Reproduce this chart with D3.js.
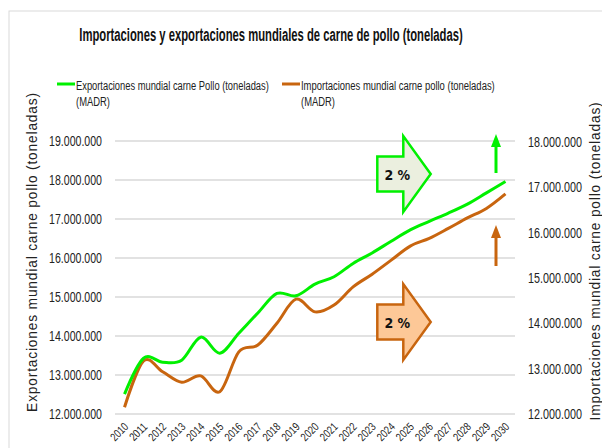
<!DOCTYPE html>
<html>
<head>
<meta charset="utf-8">
<script src="https://cdn.jsdelivr.net/npm/d3@7"></script>
<style>
  html, body { margin: 0; padding: 0; background: #fff; }
  svg { display: block; }
  .narrow { font-family: "Liberation Sans Narrow", "Arial Narrow", "Liberation Sans", Arial, sans-serif; }
  .wide { font-family: "Liberation Sans", Arial, sans-serif; }
</style>
</head>
<body>
<svg id="chart" width="602" height="448"></svg>
<script>
// World chicken meat trade, tonnes (MADR)
const years = ["2010","2011","2012","2013","2014","2015","2016","2017","2018","2019","2020",
               "2021","2022","2023","2024","2025","2026","2027","2028","2029","2030"];
const exportsT = [12510000, 13430000, 13330000, 13380000, 13970000, 13560000, 14070000,
                  14590000, 15090000, 15030000, 15330000, 15520000, 15860000, 16130000,
                  16430000, 16720000, 16940000, 17150000, 17380000, 17670000, 17960000];
const importsT = [12150000, 13170000, 12930000, 12700000, 12840000, 12490000, 13370000,
                  13520000, 14000000, 14530000, 14250000, 14400000, 14800000, 15080000,
                  15390000, 15700000, 15870000, 16090000, 16320000, 16530000, 16850000];
const leftTicks = [12000000, 13000000, 14000000, 15000000, 16000000, 17000000, 18000000, 19000000];
const rightTicks = [12000000, 13000000, 14000000, 15000000, 16000000, 17000000, 18000000];
const growthLabels = ["2 %", "2 %"];

const GREEN = "#00f000";
const ORANGE = "#c8650f";

const svg = d3.select("#chart");
const fmt = d3.formatLocale({ decimal: ",", thousands: ".", grouping: [3], currency: ["", ""] }).format(",.0f");

// condensed look: scale each text horizontally to a target width
function squeeze(sel, w) {
  sel.each(function () {
    const n = this.getComputedTextLength();
    const s = n > 0 ? w / n : 1;
    const t = d3.select(this).attr("transform") || "";
    d3.select(this).attr("transform", (t + ` scale(${s},1)`).trim());
  });
}

// chart frame
svg.append("rect").attr("x", 9).attr("y", 11).attr("width", 620).attr("height", 460)
  .attr("fill", "none").attr("stroke", "#d9d9d9").attr("stroke-width", 1);

const x = d3.scaleBand().domain(years).range([115, 515]);
const yL = d3.scaleLinear().domain([12000000, 19000000]).range([414, 141]);
const yR = d3.scaleLinear().domain([12000000, 18000000]).range([414, 141.7]);

// gridlines
svg.append("g").selectAll("line").data(leftTicks).join("line")
  .attr("x1", 115).attr("x2", 515)
  .attr("y1", d => yL(d)).attr("y2", d => yL(d))
  .attr("stroke", "#d9d9d9").attr("stroke-width", 1.5);

// left axis
const gl = svg.append("g").attr("transform", "translate(102,0)")
  .call(d3.axisLeft(yL).tickValues(leftTicks).tickFormat(fmt).tickSize(0).tickPadding(0));
gl.select(".domain").remove();
gl.selectAll("text").attr("class", "narrow").attr("font-size", 14.5).attr("fill", "#222")
  .attr("x", 0).call(squeeze, 53);

// right axis
const gr = svg.append("g").attr("transform", "translate(528,0)")
  .call(d3.axisRight(yR).tickValues(rightTicks).tickFormat(fmt).tickSize(0).tickPadding(0));
gr.select(".domain").remove();
gr.selectAll("text").attr("class", "narrow").attr("font-size", 14.5).attr("fill", "#222")
  .attr("x", 0).call(squeeze, 54);

// bottom axis
const gb = svg.append("g").attr("transform", "translate(0,414)")
  .call(d3.axisBottom(x).tickSize(0).tickPadding(0));
gb.select(".domain").remove();
gb.selectAll("text").attr("class", "narrow").attr("font-size", 11.5).attr("fill", "#222")
  .attr("text-anchor", "end").attr("dy", 0).attr("y", 0)
  .attr("transform", "translate(4.5,13.5) rotate(-45)")
  .call(squeeze, 20);

// axis titles
svg.append("text").attr("class", "wide")
  .attr("transform", "translate(37,252) rotate(-90)")
  .attr("text-anchor", "middle").attr("font-size", 13.8).attr("letter-spacing", 0.8)
  .attr("fill", "#222").text("Exportaciones mundial carne pollo (toneladas)");
svg.append("text").attr("class", "wide")
  .attr("transform", "translate(600,261) rotate(-90)")
  .attr("text-anchor", "middle").attr("font-size", 13.8).attr("letter-spacing", 0.8)
  .attr("fill", "#222").text("Importaciones mundial carne pollo (toneladas)");

// title
svg.append("text").attr("class", "narrow")
  .attr("transform", "translate(271,41)").attr("text-anchor", "middle")
  .attr("font-size", 18.5).attr("font-weight", "bold").attr("fill", "#111")
  .text("Importaciones y exportaciones mundiales de carne de pollo (toneladas)")
  .call(squeeze, 384);

// legend
const legend = [
  { color: GREEN, x: 57, lines: ["Exportaciones mundial carne Pollo (toneladas)", "(MADR)"], w: [193, 34] },
  { color: ORANGE, x: 282, lines: ["Importaciones mundial carne pollo (toneladas)", "(MADR)"], w: [194, 34] }
];
const lg = svg.append("g").selectAll("g").data(legend).join("g")
  .attr("transform", d => `translate(${d.x},0)`);
lg.append("line").attr("x1", 0).attr("x2", 18).attr("y1", 84).attr("y2", 84)
  .attr("stroke", d => d.color).attr("stroke-width", 3);
lg.each(function (d) {
  const g = d3.select(this);
  d.lines.forEach((t, i) => {
    g.append("text").attr("class", "narrow")
      .attr("transform", `translate(19,${90 + i * 16})`)
      .attr("font-size", 13.5).attr("fill", "#222").text(t)
      .call(squeeze, d.w[i]);
  });
});

// series lines
const lineL = d3.line().x((d, i) => x(years[i]) + x.bandwidth() / 2).y(d => yL(d))
  .curve(d3.curveCardinal.tension(0));
const lineR = d3.line().x((d, i) => x(years[i]) + x.bandwidth() / 2).y(d => yR(d))
  .curve(d3.curveCardinal.tension(0));

svg.append("path").attr("d", lineR(importsT)).attr("fill", "none")
  .attr("stroke", ORANGE).attr("stroke-width", 3).attr("stroke-linejoin", "round");
svg.append("path").attr("d", lineL(exportsT)).attr("fill", "none")
  .attr("stroke", GREEN).attr("stroke-width", 3).attr("stroke-linejoin", "round");

// growth block arrows
function blockArrow(g, cx, cy, fill, stroke, label) {
  const p = [[0, -17.5], [26, -17.5], [26, -38], [53.4, 0], [26, 38], [26, 17.5], [0, 17.5]];
  g.append("path")
    .attr("d", "M" + p.map(q => [q[0] + cx, q[1] + cy].join(",")).join("L") + "Z")
    .attr("fill", fill).attr("stroke", stroke).attr("stroke-width", 2.5).attr("stroke-linejoin", "miter");
  g.append("text").attr("x", cx + 20).attr("y", cy + 5.5).attr("text-anchor", "middle")
    .attr("font-family", "'DejaVu Sans Condensed', 'Liberation Sans Narrow', sans-serif")
    .attr("font-weight", "bold").attr("font-size", 14).attr("fill", "#111").text(label);
}
const ga = svg.append("g");
blockArrow(ga, 377.3, 174, "#ebefdf", GREEN, growthLabels[0]);
blockArrow(ga, 377.3, 322, "#fdc897", ORANGE, growthLabels[1]);

// small trend arrows
function upArrow(g, xx, yTop, yBottom, color) {
  g.append("line").attr("x1", xx).attr("x2", xx).attr("y1", yTop + 10).attr("y2", yBottom)
    .attr("stroke", color).attr("stroke-width", 3);
  g.append("path").attr("d", `M${xx},${yTop}L${xx + 5},${yTop + 13}L${xx - 5},${yTop + 13}Z`)
    .attr("fill", color);
}
upArrow(ga, 496, 134, 173, GREEN);
upArrow(ga, 496, 225, 266, ORANGE);
</script>
</body>
</html>
